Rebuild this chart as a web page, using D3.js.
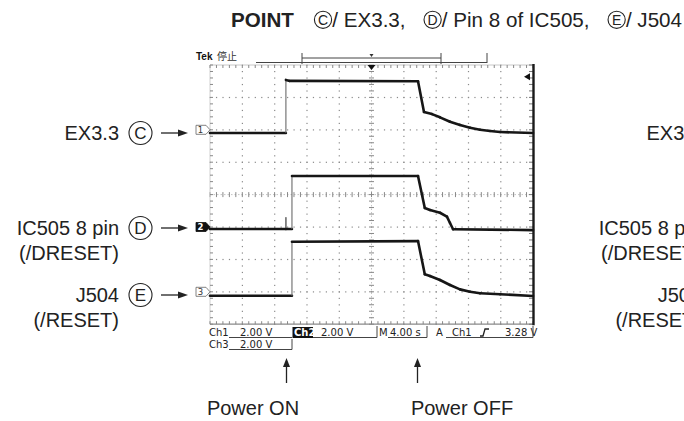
<!DOCTYPE html>
<html><head><meta charset="utf-8">
<script src="https://cdn.jsdelivr.net/npm/d3@7"></script>
<style>body{margin:0;background:#fff}svg{display:block}</style>
</head><body><svg id="c" width="684" height="421"></svg>
<script>
// ---- data ----
const timeDomain = [-20, 20];          // seconds (4.00 s/div, 10 div)
const divDomain = [-4, 4];             // vertical divisions
const voltsPerDiv = 2;                 // 2.00 V/div on every channel
const channelNames = ["Ch1", "Ch2", "Ch3"];
const channelOffsets = [2, -1, -3];    // ground marker position, div
const channelLabels = [["EX3.3"], ["IC505 8 pin", "(/DRESET)"], ["J504", "(/RESET)"]];
const channelLetters = ["C", "D", "E"];

const ch1Time = [-20, -10.6, -10.6, -10.2, 5.76, 6.5, 7.49, 8.48, 9.72, 10.96, 12.2, 13.44, 14.68, 15.93, 20];
const ch1Volt = [-0.2, -0.2, 3.08, 3.02, 3.0, 1.1, 0.97, 0.77, 0.5, 0.3, 0.13, 0.0, -0.07, -0.14, -0.2];
const ch2Time = [-20, -10.6, -10.6, -10.6, -9.85, -9.85, 5.76, 6.6, 7.24, 8.48, 9.34, 9.72, 10.1, 20];
const ch2Volt = [-0.12, -0.12, 0.6, -0.12, -0.12, 3.15, 3.15, 1.17, 1.05, 0.88, 0.64, 0.25, -0.14, -0.19];
const ch3Time = [-20, -9.85, -9.85, 5.76, 6.6, 7.24, 8.48, 9.72, 10.96, 12.2, 13.44, 15.93, 20];
const ch3Volt = [-0.24, -0.24, 3.09, 3.13, 1.08, 0.97, 0.73, 0.42, 0.15, 0.0, -0.09, -0.15, -0.26];

const titleParts = ["/ EX3.3,", "/ Pin 8 of IC505,", "/ J504"];
const statusRow1 = ["Ch1", "2.00 V", "Ch2", "2.00 V", "M", "4.00 s", "A", "Ch1", "3.28 V"];
const statusRow2 = ["Ch3", "2.00 V"];
const eventTimes = [-10.6, 5.6];
const eventLabels = ["Power ON", "Power OFF"];

// ---- drawing ----
const svg = d3.select("#c");
const x = d3.scaleLinear().domain(timeDomain).range([210, 533]);
const y = d3.scaleLinear().domain(divDomain).range([324.2, 65]);
const SANS = "'Liberation Sans', Arial, Helvetica, sans-serif";
const MONO = "'DejaVu Sans', sans-serif";

// grid dots
const grid = svg.append("g");
const majorT = d3.range(-16, 17, 4).filter(t => t !== 0);
const majorD = d3.range(-3, 4, 1).filter(d => d !== 0);
const minorD = d3.range(-4, 4.001, 0.2);
const minorT = d3.range(-20, 20.001, 0.8);
majorT.forEach(t => minorD.forEach(d => grid.append("rect")
  .attr("x", x(t) - 0.5).attr("y", y(d) - 0.5).attr("width", 1.2).attr("height", 1.2).attr("fill", "#8a8a8a")));
majorD.forEach(d => minorT.forEach(t => grid.append("rect")
  .attr("x", x(t) - 0.5).attr("y", y(d) - 0.5).attr("width", 1.2).attr("height", 1.2).attr("fill", "#8a8a8a")));
// center lines
grid.append("line").attr("x1", x(0)).attr("x2", x(0)).attr("y1", y(4)).attr("y2", y(-4))
  .attr("stroke", "#c4c4c4").attr("stroke-dasharray", "1.5,2");
grid.append("line").attr("x1", x(-20)).attr("x2", x(20)).attr("y1", y(0)).attr("y2", y(0))
  .attr("stroke", "#c4c4c4").attr("stroke-dasharray", "1.5,2");
minorD.forEach(d => grid.append("line").attr("x1", x(0) - 2.5).attr("x2", x(0) + 2.5)
  .attr("y1", y(d)).attr("y2", y(d)).attr("stroke", "#888"));
minorT.forEach(t => grid.append("line").attr("x1", x(t)).attr("x2", x(t))
  .attr("y1", y(0) - 2.5).attr("y2", y(0) + 2.5).attr("stroke", "#888"));
// edges
grid.append("line").attr("x1", x(-20)).attr("x2", x(20)).attr("y1", y(4)).attr("y2", y(4)).attr("stroke", "#c8c8c8");
grid.append("line").attr("x1", x(-20)).attr("x2", x(-20)).attr("y1", y(4)).attr("y2", y(-4)).attr("stroke", "#d0d0d0");
grid.append("line").attr("x1", x(-20)).attr("x2", x(20)).attr("y1", y(-4)).attr("y2", y(-4)).attr("stroke", "#8a8a8a").attr("stroke-width", 1.2);
minorT.forEach(t => {
  grid.append("line").attr("x1", x(t)).attr("x2", x(t)).attr("y1", y(4)).attr("y2", y(4) + 3).attr("stroke", "#888");
  grid.append("line").attr("x1", x(t)).attr("x2", x(t)).attr("y1", y(-4)).attr("y2", y(-4) - 3).attr("stroke", "#888");
});
minorD.forEach(d => {
  grid.append("line").attr("x1", x(-20)).attr("x2", x(-20) + 3).attr("y1", y(d)).attr("y2", y(d)).attr("stroke", "#888");
  grid.append("line").attr("x1", x(20)).attr("x2", x(20) - 4).attr("y1", y(d)).attr("y2", y(d)).attr("stroke", "#777");
});
grid.append("line").attr("x1", x(20) + 0.5).attr("x2", x(20) + 0.5).attr("y1", y(4) - 1).attr("y2", y(-4) + 1)
  .attr("stroke", "#1a1a1a").attr("stroke-width", 2.4);

// trigger markers
svg.append("path").attr("d", `M${x(0) - 4},${y(4)} L${x(0) + 4},${y(4)} L${x(0)},${y(4) + 5} Z`).attr("fill", "#111");
const trigY = y(channelOffsets[0] + 3.28 / voltsPerDiv);
svg.append("path").attr("d", `M${x(20) - 3},${trigY - 3.5} L${x(20) - 3},${trigY + 3.5} L${x(20) - 9},${trigY} Z`).attr("fill", "#111");

// header bar
svg.append("text").attr("x", 196).attr("y", 60).attr("font-family", SANS).attr("font-weight", "bold")
  .attr("font-size", 10).attr("fill", "#111").text("Tek");
svg.append("text").attr("x", 217).attr("y", 60).attr("font-family", "'Noto Sans CJK JP', sans-serif")
  .attr("font-size", 10).attr("fill", "#333").text("停止");
svg.append("line").attr("x1", 256).attr("x2", 487).attr("y1", 62.5).attr("y2", 62.5).attr("stroke", "#444");
svg.append("line").attr("x1", 487).attr("x2", 487).attr("y1", 53).attr("y2", 63).attr("stroke", "#444");
svg.append("line").attr("x1", 302).attr("x2", 441).attr("y1", 58).attr("y2", 58).attr("stroke", "#444");
[302, 441].forEach(v => svg.append("line").attr("x1", v).attr("x2", v).attr("y1", 53).attr("y2", 64).attr("stroke", "#444"));
svg.append("path").attr("d", `M${x(0) - 2},54 L${x(0) + 2},54 L${x(0)},57 Z`).attr("fill", "#333");

// traces
const traces = [
  ch1Time.map((t, i) => ({ t, v: ch1Volt[i] })),
  ch2Time.map((t, i) => ({ t, v: ch2Volt[i] })),
  ch3Time.map((t, i) => ({ t, v: ch3Volt[i] }))
];
traces.forEach((pts, c) => {
  const yy = p => y(channelOffsets[c] + p.v / voltsPerDiv);
  const g = svg.append("g");
  for (let i = 1; i < pts.length; i++) {
    const a = pts[i - 1], b = pts[i];
    const vertical = a.t === b.t;
    g.append("line").attr("x1", x(a.t)).attr("y1", yy(a)).attr("x2", x(b.t)).attr("y2", yy(b))
      .attr("stroke", vertical ? "#6a6a6a" : "#161616")
      .attr("stroke-width", vertical ? 1.1 : 2.6)
      .attr("stroke-linecap", vertical ? "butt" : "round");
  }
});

// channel ground markers
channelOffsets.forEach((o, c) => {
  const yc = y(o), xr = x(-20);
  const filled = c === 1;
  svg.append("path").attr("d", `M${xr - 14},${yc - 4.5} L${xr - 4},${yc - 4.5} L${xr},${yc} L${xr - 4},${yc + 4.5} L${xr - 14},${yc + 4.5} Z`)
    .attr("fill", filled ? "#111" : "#fff").attr("stroke", filled ? "#111" : "#666").attr("stroke-width", 0.8);
  svg.append("text").attr("x", xr - 9.5).attr("y", yc + 3.3).attr("text-anchor", "middle")
    .attr("font-family", MONO).attr("font-size", 8.5).attr("font-weight", filled ? "bold" : "normal")
    .attr("fill", filled ? "#fff" : "#333").text(String(c + 1));
});

// circled letter helper
function circled(g, cx, cy, r, letter, fs) {
  g.append("circle").attr("cx", cx).attr("cy", cy).attr("r", r).attr("fill", "none").attr("stroke", "#222").attr("stroke-width", 1.1);
  g.append("text").attr("x", cx).attr("y", cy + fs * 0.36).attr("text-anchor", "middle")
    .attr("font-family", SANS).attr("font-size", fs).attr("fill", "#222").text(letter);
}

// left (and cropped right duplicate) annotations
[0, 582].forEach(dx => {
  const g = svg.append("g").attr("transform", `translate(${dx},0)`);
  channelOffsets.forEach((o, c) => {
    const yc = c === 0 ? 133 : c === 1 ? 228 : 295;
    const lines = channelLabels[c];
    lines.forEach((s, k) => g.append("text").attr("x", 119).attr("y", yc + 7.2 + k * 25)
      .attr("text-anchor", "end").attr("font-family", SANS).attr("font-size", 20).attr("fill", "#222").text(s));
    if (dx === 0) {
      circled(g, 140.5, yc, 11.5, channelLetters[c], 17);
      g.append("line").attr("x1", 161).attr("x2", 180).attr("y1", yc).attr("y2", yc).attr("stroke", "#222").attr("stroke-width", 1.3);
      g.append("path").attr("d", `M178,${yc - 3.5} L188,${yc} L178,${yc + 3.5} Z`).attr("fill", "#222");
    }
  });
});

// title: bold POINT, then circled letter + text; spread so it ends near the right edge
const tg = svg.append("g");
const ty = 27, titleStart = 231, titleEnd = 682, tfs = 20.6;
const measure = (s, bold) => {
  const t = svg.append("text").attr("font-family", SANS).attr("font-size", tfs)
    .attr("font-weight", bold ? "bold" : "normal").text(s);
  const w = t.node().getComputedTextLength(); t.remove(); return w;
};
const wPoint = measure("POINT", true);
const wParts = titleParts.map(s => measure(s, false));
const circW = 18.5;
const natural = wPoint + 8 + 3 * circW + d3.sum(wParts) + 2 * 6;
const extra = Math.max(0, (titleEnd - titleStart - natural) / 3);
let cx = titleStart;
tg.append("text").attr("x", cx).attr("y", ty).attr("font-family", SANS).attr("font-weight", "bold")
  .attr("font-size", tfs).attr("fill", "#222").text("POINT");
cx += wPoint + 8 + extra;
titleParts.forEach((s, i) => {
  circled(tg, cx + circW / 2, ty - 7.2, 8.6, channelLetters[i], 14);
  cx += circW;
  tg.append("text").attr("x", cx).attr("y", ty).attr("font-family", SANS).attr("font-size", tfs).attr("fill", "#222").text(s);
  cx += wParts[i] + 6 + extra;
});

// status area
const st = svg.append("g").attr("font-family", MONO).attr("font-size", 10).attr("fill", "#222");
const r1 = 336, r2 = 348;
st.append("text").attr("x", 209).attr("y", r1).text(statusRow1[0]);
st.append("text").attr("x", 240).attr("y", r1).text(statusRow1[1]);
st.append("line").attr("x1", 229).attr("x2", 292).attr("y1", r1 + 1.5).attr("y2", r1 + 1.5).attr("stroke", "#444");
st.append("rect").attr("x", 292.5).attr("y", r1 - 9).attr("width", 20.5).attr("height", 11).attr("fill", "#111");
st.append("text").attr("x", 294).attr("y", r1).attr("fill", "#fff").attr("font-weight", "bold").text(statusRow1[2]);
st.append("text").attr("x", 321).attr("y", r1).text(statusRow1[3]);
st.append("line").attr("x1", 313).attr("x2", 377).attr("y1", r1 + 1.5).attr("y2", r1 + 1.5).attr("stroke", "#444");
st.append("line").attr("x1", 377).attr("x2", 377).attr("y1", r1 - 10).attr("y2", r1 + 1.5).attr("stroke", "#444");
st.append("text").attr("x", 379).attr("y", r1).text(statusRow1[4]);
st.append("text").attr("x", 390).attr("y", r1).text(statusRow1[5]);
st.append("line").attr("x1", 388).attr("x2", 427).attr("y1", r1 + 1.5).attr("y2", r1 + 1.5).attr("stroke", "#444");
st.append("line").attr("x1", 427).attr("x2", 427).attr("y1", r1 - 10).attr("y2", r1 + 1.5).attr("stroke", "#444");
st.append("text").attr("x", 436).attr("y", r1).text(statusRow1[6]);
st.append("text").attr("x", 452).attr("y", r1).text(statusRow1[7]);
st.append("path").attr("d", `M480,${r1} L483,${r1} L485,${r1 - 7} L489,${r1 - 7}`).attr("fill", "none").attr("stroke", "#222").attr("stroke-width", 1.3);
st.append("text").attr("x", 505).attr("y", r1).text(statusRow1[8]);
st.append("line").attr("x1", 446).attr("x2", 533).attr("y1", r1 + 1.5).attr("y2", r1 + 1.5).attr("stroke", "#444");
st.append("line").attr("x1", 533).attr("x2", 533).attr("y1", r1 - 10).attr("y2", r1 + 1.5).attr("stroke", "#444");
st.append("text").attr("x", 209).attr("y", r2).text(statusRow2[0]);
st.append("text").attr("x", 240).attr("y", r2).text(statusRow2[1]);
st.append("line").attr("x1", 229).attr("x2", 292).attr("y1", r2 + 1.5).attr("y2", r2 + 1.5).attr("stroke", "#444");
st.append("line").attr("x1", 292).attr("x2", 292).attr("y1", r2 - 9).attr("y2", r2 + 1.5).attr("stroke", "#444");

// event arrows
eventTimes.forEach((t, i) => {
  const ax = Math.round(x(t)) + 0.5;
  svg.append("line").attr("x1", ax).attr("x2", ax).attr("y1", 366).attr("y2", 383).attr("stroke", "#222").attr("stroke-width", 1.3);
  svg.append("path").attr("d", `M${ax - 3.5},367 L${ax},358 L${ax + 3.5},367 Z`).attr("fill", "#222");
  svg.append("text").attr("x", i === 0 ? 253 : 462).attr("y", 415).attr("text-anchor", "middle")
    .attr("font-family", SANS).attr("font-size", 20).attr("fill", "#222").text(eventLabels[i]);
});
</script></body></html>
